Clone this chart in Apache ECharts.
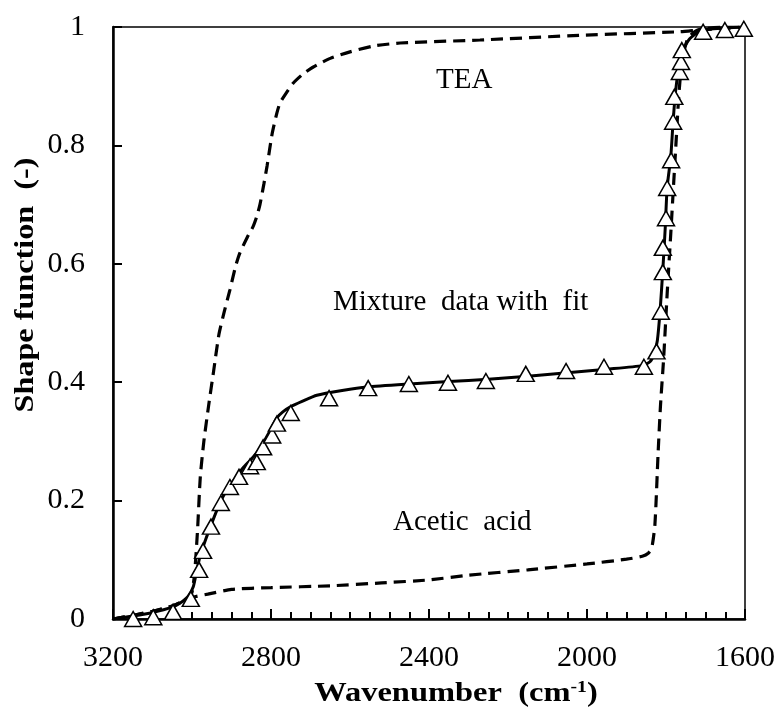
<!DOCTYPE html>
<html>
<head>
<meta charset="utf-8">
<script src="https://cdn.jsdelivr.net/npm/echarts@6/dist/echarts.min.js"></script>
<style>
  html, body { margin: 0; padding: 0; background: #fff; }
  #main { width: 778px; height: 713px; }
</style>
</head>
<body>
<div id="main"></div>
<script>
// 刻度
const xTicks = [3200, 2800, 2400, 2000, 1600];
const yTicks = [0, 0.2, 0.4, 0.6, 0.8, 1];

// TEA 形函数 (虚线)
const teaData = [
  [3200, 0.0], [3150, 0.006], [3100, 0.013], [3050, 0.022], [3010, 0.035],
  [3000, 0.045], [2993, 0.08], [2986, 0.15], [2979, 0.24], [2970, 0.30],
  [2958, 0.36], [2945, 0.42], [2932, 0.48], [2918, 0.52], [2904, 0.556],
  [2890, 0.595], [2879, 0.618], [2860, 0.645], [2846, 0.662], [2836, 0.68],
  [2828, 0.70], [2818, 0.735], [2810, 0.765], [2797, 0.82], [2785, 0.855],
  [2777, 0.872], [2760, 0.89], [2744, 0.905], [2720, 0.92], [2694, 0.932],
  [2650, 0.947], [2600, 0.958], [2540, 0.968], [2473, 0.973], [2271, 0.978],
  [2018, 0.986], [1765, 0.992], [1714, 0.995], [1600, 1.0]
];

// 醋酸 (虚线)
const aceticData = [
  [3200, 0.0], [3150, 0.006], [3100, 0.013], [3050, 0.022], [3010, 0.033],
  [2990, 0.038], [2960, 0.042], [2900, 0.05], [2800, 0.053], [2650, 0.056],
  [2520, 0.061], [2400, 0.066], [2300, 0.074], [2150, 0.083], [2000, 0.093],
  [1900, 0.101], [1860, 0.106], [1845, 0.111], [1836, 0.12], [1828, 0.16],
  [1820, 0.28], [1814, 0.36], [1806, 0.44], [1797, 0.55], [1788, 0.65],
  [1782, 0.72], [1775, 0.8], [1768, 0.88], [1760, 0.94], [1745, 0.98],
  [1720, 0.995], [1650, 1.0], [1600, 1.0]
];

// 混合物拟合 (实线)
const fitData = [
  [3200, 0.0], [3150, 0.005], [3100, 0.011], [3050, 0.02], [3030, 0.027],
  [3010, 0.038], [2997, 0.054], [2990, 0.075], [2980, 0.105], [2965, 0.135],
  [2947, 0.167], [2930, 0.195], [2912, 0.218], [2890, 0.238], [2871, 0.255],
  [2850, 0.27], [2828, 0.288], [2805, 0.315], [2785, 0.34], [2770, 0.35],
  [2752, 0.358], [2720, 0.368], [2684, 0.378], [2620, 0.386], [2557, 0.392],
  [2450, 0.397], [2350, 0.401], [2250, 0.405], [2150, 0.41], [2050, 0.416],
  [1950, 0.422], [1860, 0.428], [1840, 0.435], [1830, 0.448], [1822, 0.47],
  [1815, 0.52], [1808, 0.59], [1802, 0.66], [1797, 0.73], [1788, 0.78],
  [1782, 0.84], [1776, 0.89], [1768, 0.93], [1758, 0.96], [1740, 0.98],
  [1714, 0.993], [1680, 0.997], [1600, 1.0]
];

// 混合物实测数据 (三角形)
const mixData = [
  [3149, 0.0], [3098, 0.003], [3048, 0.012], [3003, 0.034], [2982, 0.083],
  [2972, 0.115], [2952, 0.156], [2927, 0.196], [2904, 0.223], [2881, 0.24],
  [2853, 0.258], [2836, 0.265], [2820, 0.29], [2797, 0.31], [2785, 0.33],
  [2750, 0.348], [2653, 0.373], [2554, 0.39], [2451, 0.397], [2352, 0.399],
  [2256, 0.402], [2155, 0.414], [2053, 0.419], [1957, 0.426], [1856, 0.426],
  [1824, 0.452], [1813, 0.519], [1808, 0.586], [1808, 0.627], [1800, 0.677],
  [1797, 0.728], [1787, 0.775], [1782, 0.84], [1779, 0.882], [1765, 0.924],
  [1762, 0.941], [1760, 0.961], [1706, 0.992], [1651, 0.995], [1603, 0.997]
];

const serif = '"Liberation Serif", "DejaVu Serif", serif';

let myChart = echarts.init(document.getElementById('main'));
let option = {
  backgroundColor: '#fff',
  animation: false,
  grid: {
    left: 113, right: 33, top: 27, bottom: 94,
    outerBoundsMode: 'none',
    containLabel: false,
    show: true, borderColor: '#000', borderWidth: 1.5
  },
  xAxis: {
    type: 'value',
    inverse: true,
    min: xTicks[xTicks.length - 1],
    max: xTicks[0],
    interval: 400,
    axisLine: { lineStyle: { color: '#000', width: 2.5 } },
    axisTick: { inside: true, length: 10, lineStyle: { color: '#000', width: 2 } },
    minorTick: { show: true, splitNumber: 8, length: 7, lineStyle: { color: '#000', width: 2 } },
    axisLabel: {
      fontFamily: serif, fontSize: 30, color: '#000', margin: 24,
      formatter: v => xTicks.indexOf(v) >= 0 ? String(v) : ''
    },
    splitLine: { show: false },
    minorSplitLine: { show: false }
  },
  yAxis: {
    type: 'value',
    min: 0,
    max: 1,
    interval: 0.2,
    axisLine: { show: true, lineStyle: { color: '#000', width: 2.5 } },
    axisTick: { show: true, inside: true, length: 9, lineStyle: { color: '#000', width: 2 } },
    axisLabel: {
      fontFamily: serif, fontSize: 30, color: '#000', margin: 28,
      formatter: v => {
        let t = yTicks.find(k => Math.abs(k - v) < 1e-9);
        return t === undefined ? '' : String(t);
      }
    },
    splitLine: { show: false }
  },
  graphic: [
    // 轴标题 (原图字体横向拉伸)
    {
      type: 'text', x: 456, y: 694, scaleX: 1.16,
      style: {
        text: '{b|Wavenumber  (cm}{sup|-1}{b|)}',
        align: 'center', verticalAlign: 'middle',
        textAlign: 'center', textVerticalAlign: 'middle',
        rich: {
          b: { font: 'bold 28px ' + serif, fill: '#000', lineHeight: 30 },
          sup: { font: 'bold 17px ' + serif, fill: '#000', lineHeight: 30, verticalAlign: 'top' }
        }
      }
    },
    {
      type: 'text', x: 26, y: 285, rotation: Math.PI / 2, scaleX: 1.15,
      style: {
        text: 'Shape function  (-)', font: 'bold 28px ' + serif, fill: '#000',
        align: 'center', verticalAlign: 'middle',
        textAlign: 'center', textVerticalAlign: 'middle'
      }
    },
    // 曲线注释
    { type: 'text', left: 436, top: 66, style: { text: 'TEA', font: '29px ' + serif, fill: '#000' } },
    { type: 'text', left: 333, top: 288, style: { text: 'Mixture  data with  fit', font: '29px ' + serif, fill: '#000' } },
    { type: 'text', left: 393, top: 508, style: { text: 'Acetic  acid', font: '29px ' + serif, fill: '#000' } }
  ],
  series: [
    {
      name: 'TEA', type: 'line', data: teaData, showSymbol: false, smooth: 0.2,
      lineStyle: { color: '#000', width: 3.2, type: [12, 7] }, z: 2
    },
    {
      name: 'Acetic acid', type: 'line', data: aceticData, showSymbol: false, smooth: 0.2,
      lineStyle: { color: '#000', width: 3.2, type: [12, 7] }, z: 2
    },
    {
      name: 'Fit', type: 'line', data: fitData, showSymbol: false, smooth: 0.2,
      lineStyle: { color: '#000', width: 3 }, z: 3
    },
    {
      name: 'Mixture', type: 'scatter', data: mixData, symbol: 'triangle',
      symbolSize: [17, 15], clip: false,
      itemStyle: { color: '#fff', borderColor: '#000', borderWidth: 1.5, opacity: 1 }, z: 4
    }
  ]
};
myChart.setOption(option);
</script>
</body>
</html>
